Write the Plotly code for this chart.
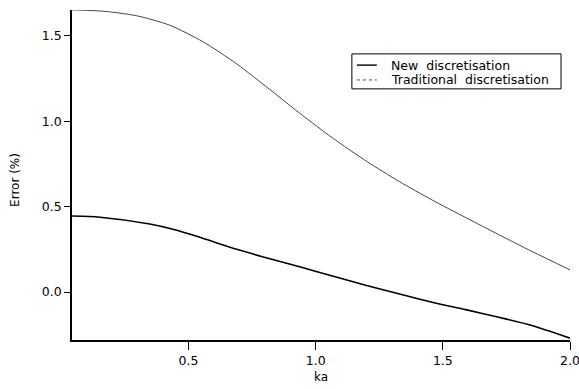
import plotly.graph_objects as go

ka_trad = [0.042, 0.055, 0.164, 0.297, 0.426, 0.556, 0.690, 0.82, 0.948, 1.066, 1.2, 1.329, 1.458, 1.59, 1.72, 1.85, 2.0]
err_trad = [1.652, 1.652, 1.645, 1.618, 1.563, 1.467, 1.336, 1.186, 1.035, 0.903, 0.766, 0.647, 0.539, 0.436, 0.336, 0.238, 0.13]

ka_new = [0.042, 0.152, 0.348, 0.454, 0.556, 0.69, 0.82, 0.937, 1.066, 1.2, 1.33, 1.458, 1.59, 1.72, 1.85, 2.0]
err_new = [0.445, 0.438, 0.398, 0.362, 0.315, 0.250, 0.195, 0.148, 0.094, 0.038, -0.011, -0.060, -0.103, -0.148, -0.196, -0.27]

x_ticks = [0.5, 1.0, 1.5, 2.0]
y_ticks = [0.0, 0.5, 1.0, 1.5]
legend_names = ["New  discretisation", "Traditional  discretisation"]

font = "DejaVu Sans, Verdana, sans-serif"
new_color, trad_color = "black", "#444444"

fig = go.Figure()
fig.add_trace(go.Scatter(x=ka_new, y=err_new, mode="lines", name=legend_names[0],
                         line=dict(color=new_color, width=1.6, shape="spline", smoothing=0.7)))
fig.add_trace(go.Scatter(x=ka_trad, y=err_trad, mode="lines", name=legend_names[1],
                         line=dict(color=trad_color, width=1.0, shape="spline", smoothing=0.7)))

# manual legend box (paper coordinates)
bx0, bx1, by0, by1 = 0.562, 0.982, 0.761, 0.867
rows = [0.833, 0.788]
fig.add_shape(type="rect", xref="paper", yref="paper", x0=bx0, x1=bx1, y0=by0, y1=by1,
              line=dict(color="black", width=1), fillcolor="white", layer="above")
for i, (name, col, wid, dash) in enumerate(zip(legend_names, [new_color, trad_color], [1.4, 1.0], ["solid", "dot"])):
    fig.add_shape(type="line", xref="paper", yref="paper", x0=0.572, x1=0.612, y0=rows[i], y1=rows[i],
                  line=dict(color=col, width=wid, dash=dash), layer="above")
    fig.add_annotation(xref="paper", yref="paper", x=0.641, y=rows[i], text=name, showarrow=False,
                       xanchor="left", yanchor="middle", xshift=-2,
                       font=dict(family=font, size=12.5, color="black"))

# y-axis title
fig.add_annotation(xref="paper", yref="paper", x=-0.1145, y=0.485, text="Error (%)", showarrow=False,
                   textangle=-90, xanchor="center", yanchor="middle",
                   font=dict(family=font, size=12, color="black"))

fig.update_layout(
    width=579, height=389,
    margin=dict(l=72, r=9, t=10, b=49),
    paper_bgcolor="white", plot_bgcolor="white",
    font=dict(family=font, size=12.5, color="black"),
    showlegend=False,
    xaxis=dict(range=[0.042, 2.0], tickvals=x_ticks, ticktext=["0.5", "1.0", "1.5", "2.0"],
               showgrid=False, zeroline=False, showline=True, linecolor="black", linewidth=1.5,
               ticks="outside", ticklen=8, tickwidth=1.2, tickcolor="black", automargin=False,
               ticklabeloverflow="allow",
               title=dict(text="ka", standoff=6, font=dict(size=12)), mirror=False),
    yaxis=dict(range=[-0.281, 1.652], tickvals=y_ticks, ticktext=["0.0", "0.5", "1.0", "1.5"],
               showgrid=False, zeroline=False, showline=True, linecolor="black", linewidth=1.5,
               ticks="outside", ticklen=6, tickwidth=1.2, tickcolor="black", automargin=False,
               mirror=False),
)

fig.write_html("out.html")
